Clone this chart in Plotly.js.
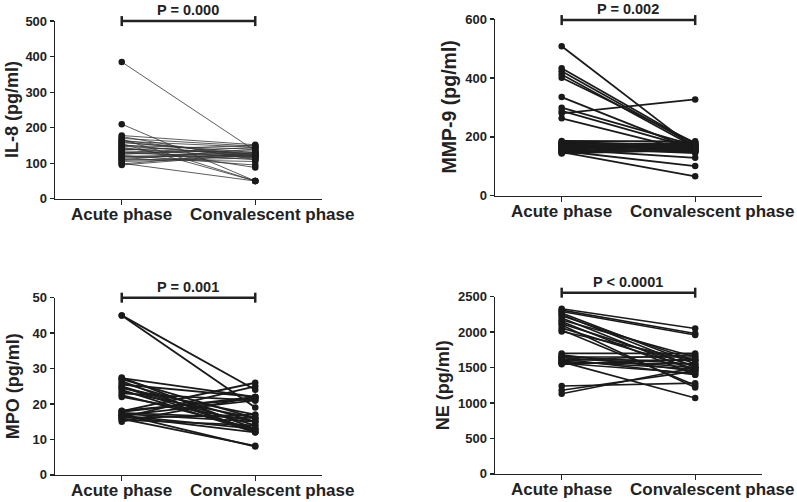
<!DOCTYPE html>
<html>
<head>
<meta charset="utf-8">
<script src="https://cdn.plot.ly/plotly-3.0.1.min.js"></script>
<style>html,body{margin:0;padding:0;background:#fff;}#chart{width:797px;height:502px;}</style>
</head>
<body>
<div id="chart"></div>
<script>
const categories = ["Acute phase", "Convalescent phase"];

const il8Acute = [385,210,178,175,170,168,165,162,160,158,155,152,150,148,145,142,140,138,135,132,130,128,125,122,120,118,115,112,110,108,105,100,98,95];
const il8Conv  = [135,50,152,110,148,50,120,145,125,130,50,118,140,125,88,115,128,150,122,110,135,120,145,95,118,130,125,105,140,120,115,50,130,125];

const mmpAcute = [508,433,423,412,401,335,299,288,280,263,186,183,180,178,176,174,172,170,168,166,164,162,160,158,156,154,152,150,148,145,144];
const mmpConv  = [160,175,170,165,180,155,170,160,327,150,185,170,160,175,150,165,180,155,170,160,145,175,165,129,170,150,101,160,66,175,155];

const mpoAcute = [45,45,27.5,27,26.5,26,25.5,25,24.5,24,23.5,23,22.5,22,27.3,24.8,18,17.8,17.5,17,16.8,16.5,16.2,16,15.8,15.5,15,17.2,16.7,18.1];
const mpoConv  = [24,19,13,16,12,15,22,14,17,12,16,21,13,15,22,12.5,26,22,16,8,21,12,25,17,8.2,14,22,15,13,21.5];

const neAcute = [2330,2310,2290,2270,2250,2230,2200,2170,2150,2120,2100,2060,2030,2010,1700,1680,1660,1650,1640,1620,1610,1600,1590,1580,1570,1560,1545,1240,1180,1130];
const neConv  = [2050,1980,1960,1550,1500,1600,1450,1650,1400,1520,1220,1480,1250,1600,1700,1450,1550,1650,1500,1400,1600,1680,1480,1070,1550,1420,1620,1280,1450,1500];

const pLabels = ["P = 0.000", "P = 0.002", "P = 0.001", "P < 0.0001"];
const yTitles = ["IL-8 (pg/ml)", "MMP-9 (pg/ml)", "MPO (pg/ml)", "NE (pg/ml)"];
const yMax = [500, 600, 50, 2500];
const yDtick = [100, 200, 10, 500];

const panels = [
  {a: il8Acute, c: il8Conv, lw: 0.8, lc: "#333"},
  {a: mmpAcute, c: mmpConv, lw: 1.8, lc: "#1a1a1a"},
  {a: mpoAcute, c: mpoConv, lw: 1.8, lc: "#1a1a1a"},
  {a: neAcute, c: neConv, lw: 1.6, lc: "#1a1a1a"}
];

const xDomains = [[0.069, 0.404], [0.621, 0.956], [0.069, 0.404], [0.621, 0.956]];
const yDomains = [[0.604, 0.958], [0.610, 0.962], [0.054, 0.407], [0.056, 0.409]];
const titleX = [12, 449, 13, 443];
const titleSize = [18, 19.5, 18, 18];
const bracketOffset = [0, -1, 0, 4];
const catShift = [0, 17];

const FONT = "Liberation Sans, Arial, sans-serif";
const traces = [];
const layout = {
  width: 797, height: 502,
  margin: {l: 0, r: 0, t: 0, b: 0},
  paper_bgcolor: "#fff", plot_bgcolor: "#fff",
  showlegend: false,
  shapes: [], annotations: []
};

panels.forEach((p, i) => {
  const n = i + 1;
  const xa = n === 1 ? "x" : "x" + n;
  const ya = n === 1 ? "y" : "y" + n;
  const xs = [], ys = [];
  for (let k = 0; k < p.a.length; k++) {
    xs.push(categories[0], categories[1], null);
    ys.push(p.a[k], p.c[k], null);
  }
  traces.push({
    type: "scatter", mode: "lines+markers",
    x: xs, y: ys, xaxis: xa, yaxis: ya,
    line: {color: p.lc, width: p.lw},
    marker: {color: "#1a1a1a", size: 6.5},
    connectgaps: false, cliponaxis: false, hoverinfo: "skip"
  });
  layout["xaxis" + (n === 1 ? "" : n)] = {
    domain: xDomains[i], anchor: ya, type: "category",
    categoryarray: categories, categoryorder: "array",
    range: [-0.5, 1.5], showgrid: false, zeroline: false,
    showline: true, linecolor: "#222", linewidth: 1.3,
    ticks: "outside", ticklen: 5, tickcolor: "#222", tickwidth: 1.3,
    showticklabels: false
  };
  layout["yaxis" + (n === 1 ? "" : n)] = {
    domain: yDomains[i], anchor: xa, range: [0, yMax[i]],
    dtick: yDtick[i], tick0: 0, showgrid: false, zeroline: false,
    showline: true, linecolor: "#222", linewidth: 1.3,
    ticks: "outside", ticklen: 4, tickcolor: "#222", tickwidth: 1.3,
    tickfont: {family: FONT, size: 13, color: "#222", weight: "bold"}
  };

  // category labels
  categories.forEach((cat, ci) => {
    layout.annotations.push({
      xref: xa, yref: "paper", x: ci, y: yDomains[i][0],
      xanchor: "center", yanchor: "middle", yshift: -16, xshift: catShift[ci],
      text: cat, showarrow: false,
      font: {family: FONT, size: 17, color: "#222", weight: "bold"}
    });
  });

  // bracket (paper y so it is not clipped)
  const top = yDomains[i][1];
  const off = bracketOffset[i];
  layout.shapes.push({type: "line", xref: xa, yref: "paper", ysizemode: "pixel", yanchor: top,
    x0: 0, x1: 1, y0: off, y1: off, line: {color: "#222", width: 2.5}});
  [0, 1].forEach(xv => {
    layout.shapes.push({type: "line", xref: xa, yref: "paper", ysizemode: "pixel", yanchor: top,
      x0: xv, x1: xv, y0: off - 5, y1: off + 5, line: {color: "#222", width: 2.5}});
  });
  layout.annotations.push({
    xref: xa, yref: "paper", x: 0.5, y: top, yanchor: "bottom", yshift: off + 2,
    text: pLabels[i], showarrow: false, borderpad: 0,
    font: {family: FONT, size: 14.5, color: "#222", weight: "bold"}
  });
  layout.annotations.push({
    xref: "paper", yref: "paper", x: titleX[i] / 797, y: (yDomains[i][0] + yDomains[i][1]) / 2,
    xanchor: "center", yanchor: "middle", textangle: -90,
    text: yTitles[i], showarrow: false,
    font: {family: FONT, size: titleSize[i], color: "#222", weight: "bold"}
  });
});

Plotly.newPlot("chart", traces, layout, {staticPlot: true, displayModeBar: false});
</script>
</body>
</html>
